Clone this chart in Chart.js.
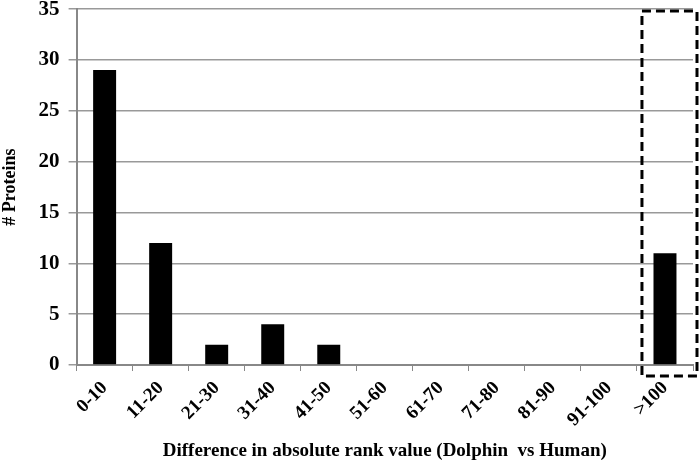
<!DOCTYPE html>
<html>
<head>
<meta charset="utf-8">
<script src="https://cdn.jsdelivr.net/npm/chart.js@4.4.1/dist/chart.umd.min.js"></script>
<style>
  html, body { margin: 0; padding: 0; background: #fff; }
  #wrap { width: 700px; height: 462px; }
</style>
</head>
<body>
<div id="wrap"><canvas id="myChart"></canvas></div>
<script>
const categories = ['0-10', '11-20', '21-30', '31-40', '41-50', '51-60', '61-70', '71-80', '81-90', '91-100', '>100']
const proteinCounts = [29, 12, 2, 4, 2, 0, 0, 0, 0, 0, 11]
const yTicks = [0, 5, 10, 15, 20, 25, 30, 35]
const xTitle = 'Difference in absolute rank value (Dolphin  vs Human)'
const yTitle = '# Proteins'

const serif = 'Liberation Serif'

// dashed box around the last category
const boxPlugin = {
    id: 'dashBox',
    afterDraw(chart){
        const x = chart.scales.x
        const y = chart.scales.y
        const last = categories.length - 1
        const half = (x.getPixelForValue(1) - x.getPixelForValue(0)) / 2
        const left = x.getPixelForValue(last) - half + 5
        const right = x.getPixelForValue(last) + half + 4
        const top = y.getPixelForValue(yTicks[yTicks.length - 1]) + 2
        const bottom = y.getPixelForValue(0) + 11
        const ctx = chart.ctx
        ctx.save()
        ctx.strokeStyle = '#000'
        ctx.lineWidth = 3
        ctx.setLineDash([9, 5])
        ctx.strokeRect(left, top, right - left, bottom - top)
        ctx.restore()
    }
}

const ctx = document.getElementById('myChart')
new Chart(ctx, {
    type: 'bar',
    data: {
        labels: categories,
        datasets: [{
            label: '# Proteins',
            data: proteinCounts,
            backgroundColor: '#000',
            borderWidth: 0,
            categoryPercentage: 1,
            barPercentage: 0.41
        }]
    },
    options: {
        responsive: true,
        maintainAspectRatio: false,
        animation: false,
        layout: { padding: { top: 4, right: 7, left: 0, bottom: 0 } },
        plugins: {
            legend: { display: false },
            tooltip: { enabled: false }
        },
        scales: {
            x: {
                offset: true,
                grid: {
                    display: true,
                    offset: true,
                    drawOnChartArea: false,
                    drawTicks: true,
                    tickLength: 6,
                    color: '#888'
                },
                border: { display: true, color: '#888', width: 2 },
                ticks: {
                    color: '#000',
                    font: { family: serif, size: 19, weight: 'bold' },
                    minRotation: 45,
                    maxRotation: 45,
                    padding: 6,
                    autoSkip: false
                },
                title: {
                    display: true,
                    text: xTitle,
                    color: '#000',
                    font: { family: serif, size: 19, weight: 'bold' },
                    padding: { top: 2, bottom: 0 }
                }
            },
            y: {
                min: 0,
                max: 35,
                afterBuildTicks(axis){
                    axis.ticks = yTicks.map(v => ({ value: v }))
                },
                grid: {
                    color: '#999',
                    lineWidth: 1.5,
                    drawTicks: true,
                    tickLength: 8
                },
                border: { display: true, color: '#888', width: 2 },
                ticks: {
                    color: '#000',
                    font: { family: serif, size: 21, weight: 'bold', lineHeight: 0.01 },
                    padding: 9
                },
                title: {
                    display: true,
                    text: yTitle,
                    color: '#000',
                    font: { family: serif, size: 18, weight: 'bold' },
                    padding: { top: 0, bottom: 8 }
                }
            }
        }
    },
    plugins: [boxPlugin]
})
</script>
</body>
</html>
